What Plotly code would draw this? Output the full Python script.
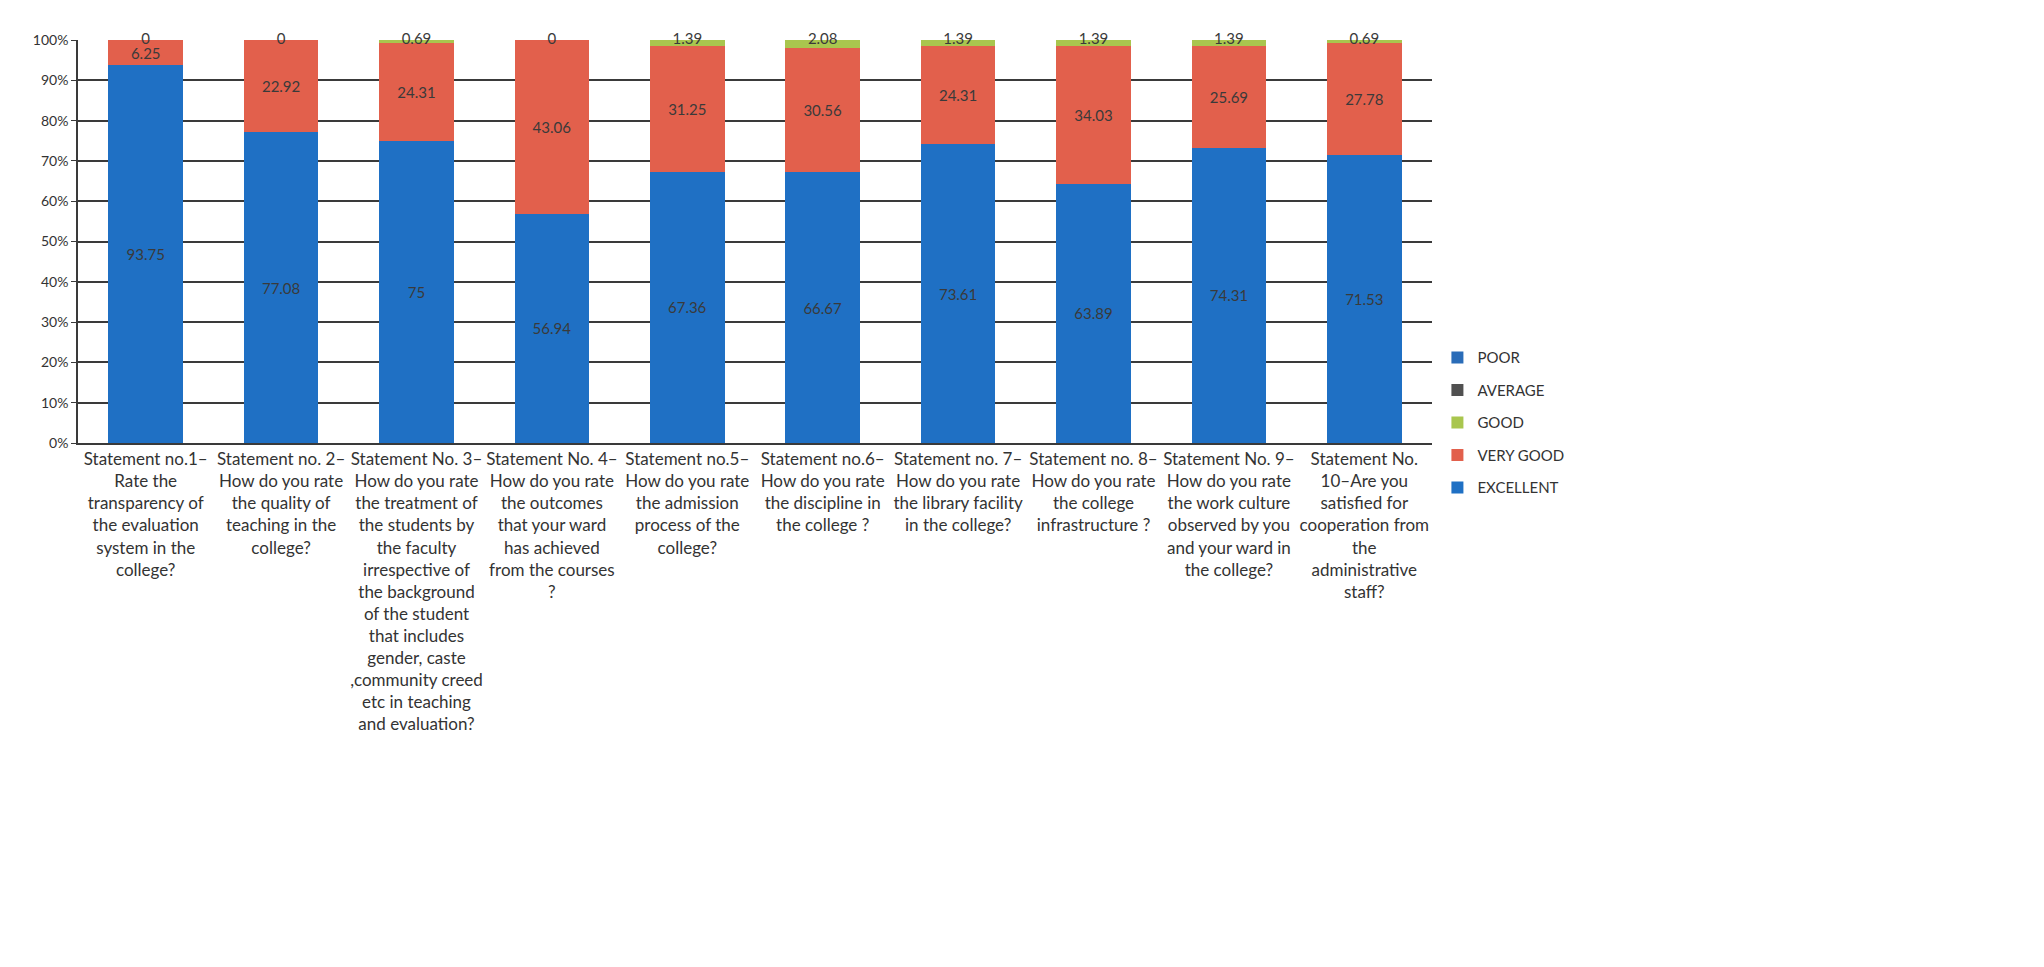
import plotly.graph_objects as go

categories = [
    "Statement no.1–<br>Rate the<br>transparency of<br>the evaluation<br>system in the<br>college?",
    "Statement no. 2–<br>How do you rate<br>the quality of<br>teaching in the<br>college?",
    "Statement No. 3–<br>How do you rate<br>the treatment of<br>the students by<br>the faculty<br>irrespective of<br>the background<br>of the student<br>that includes<br>gender, caste<br>,community creed<br>etc in teaching<br>and evaluation?",
    "Statement No. 4–<br>How do you rate<br>the outcomes<br>that your ward<br>has achieved<br>from the courses<br>?",
    "Statement no.5–<br>How do you rate<br>the admission<br>process of the<br>college?",
    "Statement no.6–<br>How do you rate<br>the discipline in<br>the college ?",
    "Statement no. 7–<br>How do you rate<br>the library facility<br>in the college?",
    "Statement no. 8–<br>How do you rate<br>the college<br>infrastructure ?",
    "Statement No. 9–<br>How do you rate<br>the work culture<br>observed by you<br>and your ward in<br>the college?",
    "Statement No.<br>10–Are you<br>satisfied for<br>cooperation from<br>the<br>administrative<br>staff?",
]

excellent = [93.75, 77.08, 75, 56.94, 67.36, 66.67, 73.61, 63.89, 74.31, 71.53]
very_good = [6.25, 22.92, 24.31, 43.06, 31.25, 30.56, 24.31, 34.03, 25.69, 27.78]
good = [0, 0, 0.69, 0, 1.39, 2.08, 1.39, 1.39, 1.39, 0.69]
average = [0, 0, 0, 0, 0, 0, 0, 0, 0, 0]
poor = [0, 0, 0, 0, 0, 0, 0, 0, 0, 0]

y_ticks = [0, 10, 20, 30, 40, 50, 60, 70, 80, 90, 100]
y_tick_labels = ["0%", "10%", "20%", "30%", "40%", "50%", "60%", "70%", "80%", "90%", "100%"]

series = [
    ("EXCELLENT", excellent, "#1F70C4", True),
    ("VERY GOOD", very_good, "#E2604C", True),
    ("GOOD", good, "#A9C64E", False),
    ("AVERAGE", average, "#505050", False),
    ("POOR", poor, "#2A6CB8", False),
]

label_font = dict(family="Lato, sans-serif", size=15, color="#3a3a3a")

fig = go.Figure()
n = len(series)
for i, (name, vals, color, show_text) in enumerate(series):
    fig.add_trace(go.Bar(
        name=name,
        legendgroup=name,
        legendrank=n - i,
        x=categories,
        y=vals,
        marker=dict(color=color, line=dict(width=0)),
        text=[f"{v:g}" for v in vals] if show_text else None,
        textposition="inside" if show_text else "none",
        insidetextanchor="middle",
        constraintext="none",
        textangle=0,
        textfont=label_font,
        cliponaxis=False,
    ))

# GOOD labels sit at the top edge of each (100%-normalised) column
totals = [e + v + g + a + p for e, v, g, a, p in zip(excellent, very_good, good, average, poor)]
good_top = [100 * (e + v + g) / t for e, v, g, t in zip(excellent, very_good, good, totals)]
fig.add_trace(go.Scatter(
    x=categories,
    y=good_top,
    mode="text",
    text=[f"{v:g}" for v in good],
    textposition="middle center",
    textfont=label_font,
    showlegend=False,
    hoverinfo="skip",
    cliponaxis=False,
))

fig.update_layout(
    barmode="stack",
    barnorm="percent",
    bargap=0.45,
    width=2044,
    height=967,
    paper_bgcolor="white",
    plot_bgcolor="white",
    margin=dict(l=70, r=620, t=32, b=532),
    font=dict(family="Lato, sans-serif", color="#333333"),
    legend=dict(
        x=1.004, y=0.05, xanchor="left", yanchor="middle",
        traceorder="grouped",
        font=dict(size=15, color="#333333"),
        itemwidth=30,
        tracegroupgap=10,
    ),
    showlegend=True,
)

fig.update_yaxes(
    range=[0, 100],
    tickvals=y_ticks,
    ticktext=y_tick_labels,
    showgrid=True,
    gridcolor="#3a3a3a",
    gridwidth=1.5,
    showline=True,
    linecolor="#3a3a3a",
    linewidth=1.5,
    ticks="outside",
    ticklen=5,
    tickcolor="#3a3a3a",
    tickfont=dict(size=14, color="#333333"),
)
fig.update_xaxes(
    showline=True,
    linecolor="#3a3a3a",
    linewidth=1.5,
    tickangle=0,
    tickfont=dict(size=17, color="#333333"),
    ticks="",
)

fig.write_html("out.html")
